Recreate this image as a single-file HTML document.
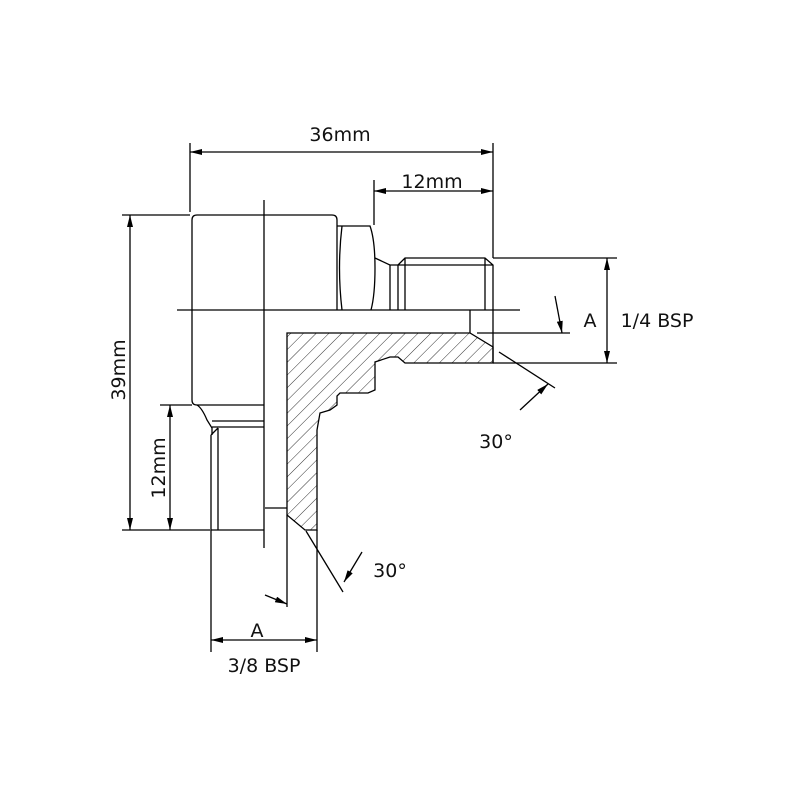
<!DOCTYPE html>
<html><head><meta charset="utf-8"><style>
html,body{margin:0;padding:0;background:#fff;}
svg{display:block;}
text{font-family:"DejaVu Sans","Liberation Sans",sans-serif;font-size:19px;fill:#111;}
</style></head><body>
<svg width="800" height="800" viewBox="0 0 800 800" xmlns="http://www.w3.org/2000/svg">
<defs>
<marker id="ar" viewBox="0 0 12 6" refX="12" refY="3" markerWidth="12" markerHeight="6" orient="auto-start-reverse" markerUnits="userSpaceOnUse">
<path d="M0,0 L12,3 L0,6 Z" fill="#000"/></marker>
<pattern id="hatch" patternUnits="userSpaceOnUse" width="9" height="9" patternTransform="rotate(45)">
<line x1="0" y1="0" x2="0" y2="9" stroke="#333" stroke-width="1"/></pattern>
<clipPath id="cp"><polygon points="287,333 470,333 493,347 493,363 405,363 398,357 390,357 375,362 375,390 368,393 340,393 337,396 337,405 330,410 320,413 317,430 317,530 305,530 287,515"/></clipPath>
</defs>
<g fill="none" stroke="#000" stroke-width="1.3">
<!-- hatched section -->
<rect x="280" y="325" width="220" height="210" fill="url(#hatch)" stroke="none" clip-path="url(#cp)"/>
<polygon points="287,333 470,333 493,347 493,363 405,363 398,357 390,357 375,362 375,390 368,393 340,393 337,396 337,405 330,410 320,413 317,430 317,530 305,530 287,515"/>
<!-- body -->
<path d="M197,215 H332 Q337,215 337,220 V310 M192,310 V220 Q192,215 197,215"/>
<path d="M192,310 V400 Q192,405 197,405 H264"/>
<!-- hex nut -->
<path d="M337,226 H370 Q375,240 375,268 Q375,295 371,310 M342,226 Q337,268 342,310"/>
<!-- neck + thread top -->
<path d="M375,258 L390,265 V310 M390,265 H398 V310 M398,265 L405,258 H485 L493,265 V310 M405,258 V310 M398,265 H493 M485,258 V310"/>
<path d="M470,310 V333 M493,310 V363"/>
<!-- lower fitting -->
<path d="M197,405 Q202,408 207,420 L212,428 V435 M212,421 H264 M212,427 H264"/>
<path d="M211,435 V530 H264 M218,428 V530 M211,435 L218,428"/>
<path d="M265,508 H287"/>
<!-- centerlines -->
<path d="M177,310 H520 M264,200 V548"/>
<!-- A lines -->
<path d="M477,333 H570 M287,515 V607"/>
<!-- dims top -->
<path d="M190,143 V212 M493,143 V258 M374,180 V225"/>
<line x1="190" y1="152" x2="493" y2="152" marker-start="url(#ar)" marker-end="url(#ar)"/>
<line x1="374" y1="191" x2="493" y2="191" marker-start="url(#ar)" marker-end="url(#ar)"/>
<!-- dims left -->
<path d="M122,215 H190 M122,530 H210 M160,405 H192"/>
<line x1="130" y1="215" x2="130" y2="530" marker-start="url(#ar)" marker-end="url(#ar)"/>
<line x1="170" y1="405" x2="170" y2="530" marker-start="url(#ar)" marker-end="url(#ar)"/>
<!-- dims right -->
<path d="M493,258 H617 M493,363 H617"/>
<line x1="607" y1="258" x2="607" y2="363" marker-start="url(#ar)" marker-end="url(#ar)"/>
<line x1="555" y1="296" x2="562" y2="333" marker-end="url(#ar)"/>
<!-- 30 right -->
<line x1="499" y1="352" x2="555" y2="388"/>
<line x1="520" y1="410" x2="548" y2="384" marker-end="url(#ar)"/>
<!-- bottom dims -->
<path d="M211,530 V652 M317,530 V652"/>
<line x1="211" y1="640" x2="317" y2="640" marker-start="url(#ar)" marker-end="url(#ar)"/>
<line x1="265" y1="595" x2="287" y2="604" marker-end="url(#ar)"/>
<!-- 30 lower -->
<line x1="306" y1="531" x2="343" y2="592"/>
<line x1="362" y1="552" x2="344" y2="582" marker-end="url(#ar)"/>
</g>
<text x="340" y="141" text-anchor="middle">36mm</text>
<text x="432" y="188" text-anchor="middle">12mm</text>
<text transform="translate(125,370) rotate(-90)" text-anchor="middle">39mm</text>
<text transform="translate(165,468) rotate(-90)" text-anchor="middle">12mm</text>
<text x="590" y="327" text-anchor="middle">A</text>
<text x="657" y="327" text-anchor="middle">1/4 BSP</text>
<text x="496" y="448" text-anchor="middle">30°</text>
<text x="390" y="577" text-anchor="middle">30°</text>
<text x="257" y="637" text-anchor="middle">A</text>
<text x="264" y="672" text-anchor="middle">3/8 BSP</text>
</svg>
</body></html>
